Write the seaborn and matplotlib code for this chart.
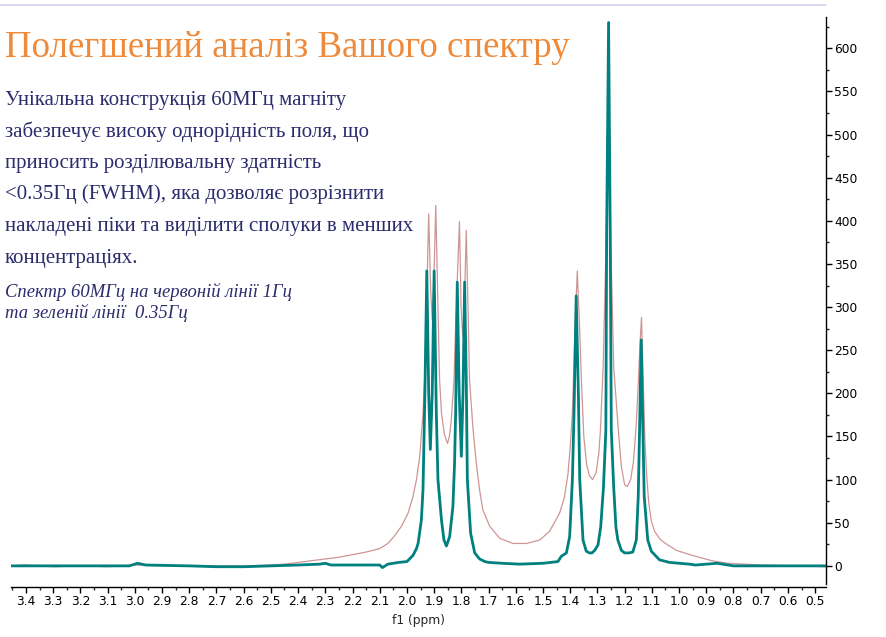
import numpy as np
import matplotlib
matplotlib.use('agg')
import matplotlib.pyplot as plt
import seaborn as sns
from matplotlib.lines import Line2D
from matplotlib.ticker import MultipleLocator, FormatStrFormatter


# --- spectrum values (ppm, intensity)

teal_ppm = [3.455, 3.40, 3.30, 3.20, 3.10, 3.02, 2.99, 2.96, 2.80, 2.70, 2.60, 2.50,
            2.40, 2.32, 2.30, 2.28, 2.20, 2.10, 2.09, 2.07, 2.03, 2.00, 1.978, 1.965,
            1.959, 1.947, 1.941, 1.934, 1.927, 1.920, 1.914, 1.907, 1.900, 1.892, 1.886,
            1.873, 1.864, 1.855, 1.843, 1.831, 1.825, 1.821, 1.815, 1.808, 1.800, 1.794,
            1.788, 1.782, 1.778, 1.766, 1.751, 1.733, 1.714, 1.70, 1.65, 1.586, 1.50,
            1.445, 1.433, 1.414, 1.402, 1.392, 1.386, 1.378, 1.370, 1.365, 1.353, 1.341,
            1.329, 1.320, 1.310, 1.298, 1.288, 1.278, 1.269, 1.266, 1.259, 1.253, 1.249,
            1.240, 1.232, 1.225, 1.212, 1.200, 1.185, 1.170, 1.157, 1.150, 1.145, 1.139,
            1.133, 1.128, 1.115, 1.102, 1.072, 1.035, 0.962, 0.94, 0.86, 0.84, 0.80,
            0.70, 0.60, 0.50, 0.46]
teal_int = [0, 0, 0, 0, 0, 0, 3, 1, 0, -1, -1, 0,
            1, 2, 3, 1, 1, 1, -2, 2, 4, 5, 12, 20,
            26, 53, 88, 200, 342, 200, 135, 200, 342, 177, 100,
            53, 30, 23, 34, 69, 119, 177, 329, 200, 127, 200,
            329, 216, 100, 38, 15, 8, 5, 4, 3, 2, 3,
            5, 11, 15, 34, 100, 177, 313, 200, 100, 30, 17,
            15, 15, 18, 24, 45, 90, 157, 389, 630, 389, 157,
            90, 45, 30, 18, 15, 15, 16, 30, 80, 160, 262,
            160, 80, 30, 17, 7, 4, 2, 1, 3, 2, 0,
            0, 0, 0, 0]

red_ppm = [3.455, 3.40, 3.30, 3.20, 3.10, 3.00, 2.90, 2.80, 2.70, 2.60, 2.50, 2.45,
           2.40, 2.35, 2.30, 2.25, 2.20, 2.15, 2.10, 2.07, 2.045, 2.020, 1.996, 1.978,
           1.965, 1.953, 1.941, 1.935, 1.928, 1.920, 1.913, 1.907, 1.901, 1.894, 1.886,
           1.880, 1.873, 1.862, 1.851, 1.844, 1.837, 1.827, 1.820, 1.807, 1.801, 1.795,
           1.789, 1.782, 1.775, 1.770, 1.757, 1.745, 1.733, 1.721, 1.696, 1.659, 1.610,
           1.561, 1.512, 1.476, 1.439, 1.421, 1.408, 1.400, 1.392, 1.388, 1.382, 1.374,
           1.366, 1.359, 1.350, 1.340, 1.330, 1.318, 1.305, 1.295, 1.289, 1.279, 1.267,
           1.259, 1.252, 1.240, 1.223, 1.212, 1.200, 1.190, 1.178, 1.168, 1.158, 1.150,
           1.143, 1.138, 1.132, 1.126, 1.120, 1.112, 1.102, 1.09, 1.07, 1.05, 1.01,
           0.95, 0.88, 0.82, 0.70, 0.57, 0.46]
red_int = [0, 1, -1, 0, -1, 1, 0, 0, 0, 0, 1, 2,
           4, 6, 8, 10, 13, 16, 20, 26, 35, 46, 61, 80,
           100, 127, 177, 216, 300, 408, 320, 285, 330, 418, 300,
           216, 177, 152, 142, 150, 169, 216, 290, 399, 300, 266,
           300, 389, 290, 216, 158, 119, 88, 65, 46, 32, 26,
           26, 30, 40, 61, 80, 107, 138, 177, 216, 280, 342,
           280, 216, 150, 118, 105, 100, 108, 130, 157, 230, 389,
           600, 389, 230, 157, 115, 94, 92, 100, 120, 160, 210,
           260, 288, 220, 150, 110, 75, 52, 40, 31, 26, 18,
           12, 6, 3, 1, 0, -1]

x_ticks = [3.4, 3.3, 3.2, 3.1, 3.0, 2.9, 2.8, 2.7, 2.6, 2.5, 2.4, 2.3, 2.2, 2.1, 2.0,
           1.9, 1.8, 1.7, 1.6, 1.5, 1.4, 1.3, 1.2, 1.1, 1.0, 0.9, 0.8, 0.7, 0.6, 0.5]

title = "Полегшений аналіз Вашого спектру"
body_lines = ["Унікальна конструкція 60МГц магніту",
              "забезпечує високу однорідність поля, що",
              "приносить розділювальну здатність",
              "<0.35Гц (FWHM), яка дозволяє розрізнити",
              "накладені піки та виділити сполуки в менших",
              "концентраціях."]
caption_lines = ["Спектр 60МГц на червоній лінії 1Гц",
                 "та зеленій лінії  0.35Гц"]

# --- figure

sns.set_style("white")
plt.rcParams['font.family'] = ['DejaVu Sans']

W, H = 886, 637
fig = plt.figure(figsize=(W / 100, H / 100), dpi=100)
ax = fig.add_axes([11 / W, 1 - 587 / H, (826 - 11) / W, (587 - 17.3) / H])

sns.lineplot(x=red_ppm, y=red_int, ax=ax, color="#c98a8a", linewidth=0.9,
             alpha=0.9, sort=False, estimator=None)
sns.lineplot(x=teal_ppm, y=teal_int, ax=ax, color="#00807e", linewidth=2.0,
             sort=False, estimator=None)

ax.set_xlim(3.455, 0.46)
ax.set_ylim(-24.5, 636)

for s in ['top', 'left']:
    ax.spines[s].set_visible(False)
for s in ['bottom', 'right']:
    ax.spines[s].set_color('black')
    ax.spines[s].set_linewidth(1.0)
ax.spines['right'].set_bounds(-21, 636)

ax.yaxis.tick_right()
ax.set_xticks(x_ticks)
ax.xaxis.set_major_formatter(FormatStrFormatter('%.1f'))
ax.xaxis.set_minor_locator(MultipleLocator(0.05))
ax.yaxis.set_major_locator(MultipleLocator(50))
ax.yaxis.set_minor_locator(MultipleLocator(25))
ax.tick_params(which='major', length=4, width=1.0, direction='out',
               labelsize=8.8, pad=2, colors='black')
ax.tick_params(which='minor', length=2.5, width=1.0, direction='out')
ax.tick_params(axis='x', which='both', bottom=True)
ax.tick_params(axis='y', which='both', right=True, left=False)

ax.set_xlabel("f1 (ppm)", fontsize=8.8, labelpad=4)
ax.set_ylabel("")

# thin rule at the top of the slide
fig.add_artist(Line2D([0, 826 / W], [1 - 5 / H, 1 - 5 / H], color="#d4d2ea",
                      linewidth=1.2, transform=fig.transFigure))

# texts
serif = ['Liberation Serif', 'DejaVu Serif']
fig.text(5 / W, 1 - 57 / H, title, color="#ee8a3a", fontsize=26.6,
         family=serif, va='baseline')
for i, line in enumerate(body_lines):
    fig.text(5 / W, 1 - (105 + 31.5 * i) / H, line, color="#2c2c6c",
             fontsize=15.0, family=serif, va='baseline')
for i, line in enumerate(caption_lines):
    fig.text(5 / W, 1 - (297 + 21.5 * i) / H, line, color="#2c2c6c",
             fontsize=13.4, family=serif, style='italic', va='baseline')

plt.savefig("out.png", dpi=100)
